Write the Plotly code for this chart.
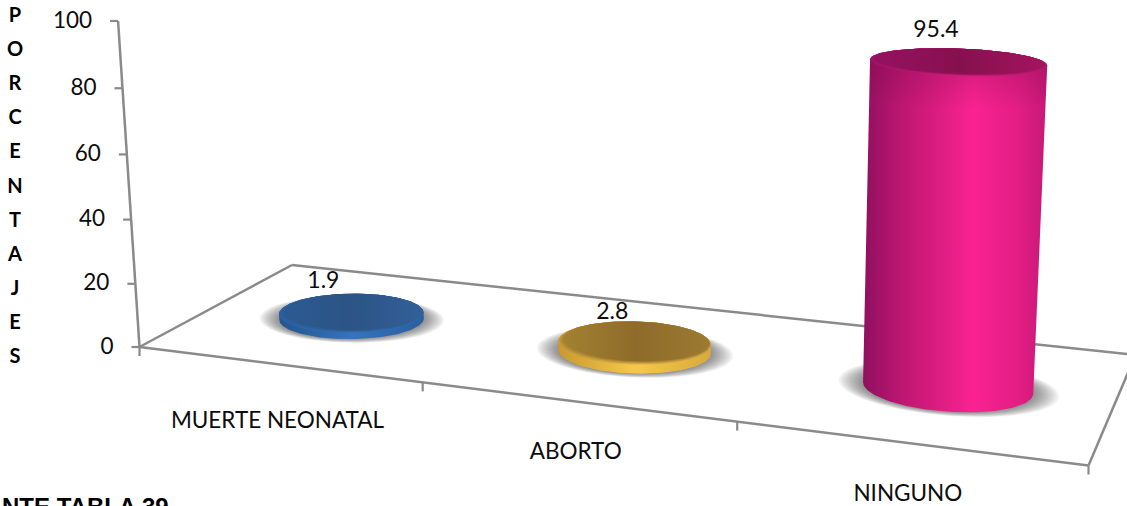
import numpy as np
import plotly.graph_objects as go

# Chart content
categories = ["MUERTE NEONATAL", "ABORTO", "NINGUNO"]
porcentajes = [1.9, 2.8, 95.4]
value_ticks = [0, 20, 40, 60, 80, 100]
axis_title = list("PORCENTAJES")
source_note = "NTE TABLA 39"

WIDTH, HEIGHT = 1127, 506
PX_PER_PCT = 3.137
ZERO_ROW = 347.0
FRAME = "#8a8a8a"
INK = "#0c0c0c"
FONT = "Lato"

# Floor quadrilateral of the perspective box, in page pixels: front-left,
# front-right, back-right, back-left.
FLOOR = [(139.5, 347.0), (1088.5, 465.5), (1135.5, 355.0), (292.0, 265.0)]
VANISH = (684.0, 8632.0)   # where the verticals of the box converge
RISE = 0.0003786           # perspective growth per percentage point


def floor_matrix():
    src = [(0, 0), (3, 0), (3, 1), (0, 1)]
    A, b = [], []
    for (u, v), (x, y) in zip(src, FLOOR):
        A.append([u, v, 1, 0, 0, 0, -u * x, -v * x])
        A.append([0, 0, 0, u, v, 1, -u * y, -v * y])
        b += [x, y]
    h = np.linalg.solve(np.array(A, float), np.array(b, float))
    return np.append(h, 1.0).reshape(3, 3)


H = floor_matrix()


def project(u, v, z):
    """Box coordinates (category, depth, percent) to axis coordinates."""
    u, v, z = np.broadcast_arrays(np.asarray(u, float), np.asarray(v, float), np.asarray(z, float))
    x = H[0, 0] * u + H[0, 1] * v + H[0, 2] - RISE * z * VANISH[0]
    y = H[1, 0] * u + H[1, 1] * v + H[1, 2] - RISE * z * VANISH[1]
    w = H[2, 0] * u + H[2, 1] * v + H[2, 2] - RISE * z
    return x / w, (ZERO_ROW - y / w) / PX_PER_PCT


def px(dy):
    return dy / PX_PER_PCT


fig = go.Figure()


def line(us, vs, zs, width=2.5):
    x, y = project(us, vs, zs)
    fig.add_trace(go.Scatter(x=np.atleast_1d(x), y=np.atleast_1d(y), mode="lines",
                             line=dict(color=FRAME, width=width), hoverinfo="skip"))


def stub(u, v, z, dx, dy):
    x, y = project(u, v, z)
    fig.add_trace(go.Scatter(x=[x, x + dx], y=[y, y + px(dy)], mode="lines",
                             line=dict(color=FRAME, width=2.2), hoverinfo="skip"))


# Box frame
line([0, 3], [0, 0], [0, 0])
line([0, 3], [1, 1], [0, 0])
line([0, 0], [0, 1], [0, 0])
line([3, 3], [0, 1], [0, 0])
line([0, 0], [0, 0], [0, 100])
for t in value_ticks:
    stub(0, 0, t, -8, 0)
for u in range(len(categories) + 1):
    stub(u, 0, 0, 0, -9)

RV = 0.215
VC = 0.5
BAR_U = [0.5, 1.503, 2.507]
BAR_RU = [0.245, 0.245, 0.255]
STYLES = [
    dict(side=[[0, "#24558f"], [0.5, "#3474bd"], [1, "#2a5f9f"]],
         rim=[[0, "#2b5f9e"], [0.5, "#3570b4"], [1, "#2e64a4"]],
         cap=[[0, "#2b5a92"], [0.5, "#2c5485"], [1, "#33609a"]]),
    dict(side=[[0, "#c9992f"], [0.5, "#f6c84a"], [1, "#d8aa3c"]],
         rim=[[0, "#c59a38"], [0.5, "#dcb044"], [1, "#c79c38"]],
         cap=[[0, "#a38131"], [0.5, "#8e6b2a"], [1, "#9c7a32"]]),
    dict(side=[[0, "#8f1060"], [0.2, "#bb1670"], [0.6, "#fb2291"], [0.85, "#e21d84"], [1, "#c51877"]],
         rim=[[0, "#a01266"], [0.6, "#d81d80"], [1, "#b5166e"]],
         cap=[[0, "#951160"], [0.5, "#86104f"], [1, "#a3145f"]]),
]
T = np.linspace(0, 2 * np.pi, 181)


def ellipse(uc, ru, z, scale_u=1.0, scale_v=1.0, shift_v=0.0):
    return project(uc + ru * scale_u * np.cos(T), VC + shift_v + RV * scale_v * np.sin(T), z)


def filled(x, y, scale):
    fig.add_trace(go.Scatter(
        x=x, y=y, mode="lines", line=dict(width=0), fill="toself", hoverinfo="skip",
        fillgradient=dict(type="horizontal", colorscale=scale, start=float(np.min(x)), stop=float(np.max(x)))))


def mix(a, b, s):
    ca = [int(a[k:k + 2], 16) for k in (1, 3, 5)]
    cb = [int(b[k:k + 2], 16) for k in (1, 3, 5)]
    return "#" + "".join(f"{round(p + (q - p) * s):02x}" for p, q in zip(ca, cb))


def blend_scale(a, b, s):
    # Both scales are sampled at three stops to ease the rim into the top face
    def at(scale, t):
        for (p0, c0), (p1, c1) in zip(scale, scale[1:]):
            if p0 <= t <= p1:
                return mix(c0, c1, (t - p0) / (p1 - p0))
        return scale[-1][1]
    return [[t, mix(at(a, t), at(b, t), s)] for t in (0, 0.5, 1)]


for uc, ru, value, style in zip(BAR_U, BAR_RU, porcentajes, STYLES):
    # Soft shadow on the floor
    for f in np.linspace(1, 0, 13):
        sx, sy = ellipse(uc, ru, 0, 1.0 + 0.30 * f, 1.0 + 0.16 * f)
        fig.add_trace(go.Scatter(x=sx, y=sy, mode="lines", line=dict(width=0), fill="toself",
                                 fillcolor="rgba(40,40,40,0.05)", hoverinfo="skip"))
    # Body: front half of the base joined to the top ring; the bevel sits
    # just under the nominal height of the column
    top_z = value * 0.99
    bx, by = ellipse(uc, ru, 0)
    tx, ty = ellipse(uc, ru, top_z)
    bl, br = int(np.argmin(bx[:-1])), int(np.argmax(bx[:-1]))
    tl, tr = int(np.argmin(tx[:-1])), int(np.argmax(tx[:-1]))
    base_idx = np.arange(bl, bl + 1 + (br - bl) % 180) % 180
    top_idx = np.arange(tr, tr + 1 + (tl - tr) % 180) % 180
    filled(np.r_[bx[base_idx], tx[top_idx]], np.r_[by[base_idx], ty[top_idx]], style["side"])
    # Shade under the bevel on tall columns
    if value > 20:
        lx, ly = ellipse(uc, ru, top_z - 9)
        poly_x = np.r_[lx[base_idx], tx[top_idx]]
        poly_y = np.r_[ly[base_idx], ty[top_idx]]
        fig.add_trace(go.Scatter(
            x=poly_x, y=poly_y, mode="lines", line=dict(width=0), fill="toself", hoverinfo="skip",
            fillgradient=dict(type="vertical",
                              colorscale=[[0, "rgba(120,10,70,0)"], [1, "rgba(120,10,70,0.38)"]],
                              start=float(np.min(poly_y)), stop=float(np.max(poly_y)))))
    # Bevelled rim easing into the top face, whose far edge meets the rim
    for s in (0.0, 0.34, 0.67, 1.0):
        rx, ry = ellipse(uc, ru, top_z, 1 - 0.035 * s, 1 - 0.075 * s, 0.016 * s)
        filled(rx, ry, blend_scale(style["rim"], style["cap"], s))

# Text
text_x, text_y, text_s = [], [], []
for t in value_ticks:
    x, y = project(0, 0, t)
    text_x.append(x - 26)
    text_y.append(y + px(-1))
    text_s.append(str(t))
fig.add_trace(go.Scatter(x=text_x, y=text_y, text=text_s, mode="text", textposition="middle left",
                         textfont=dict(family=FONT, size=22.5, color=INK), hoverinfo="skip"))

cat_x, cat_y = project(np.arange(3) + 0.5, 0, 0)
cat_drop = np.array([58, 52, 52])
fig.add_trace(go.Scatter(x=cat_x, y=cat_y - px(cat_drop), text=categories, mode="text",
                         textposition="middle center",
                         textfont=dict(family=FONT, size=22.5, color=INK), hoverinfo="skip"))

lab_x, lab_y = project(BAR_U, VC, porcentajes)
lab_dx = np.array([-28, -22, -22])
lab_dy = np.array([31, 29, 27])
fig.add_trace(go.Scatter(x=lab_x + lab_dx, y=lab_y + px(lab_dy), text=[f"{v:.1f}" for v in porcentajes],
                         mode="text", textposition="middle center",
                         textfont=dict(family=FONT, size=23, color=INK), hoverinfo="skip"))

title_y = [(ZERO_ROW - (17 + 34.1 * k)) / PX_PER_PCT for k in range(len(axis_title))]
fig.add_trace(go.Scatter(x=[15] * len(axis_title), y=title_y, text=[f"<b>{c}</b>" for c in axis_title],
                         mode="text", textposition="middle center",
                         textfont=dict(family=FONT, size=20, color="#000000"), hoverinfo="skip"))

fig.add_trace(go.Scatter(x=[2], y=[(ZERO_ROW - 509) / PX_PER_PCT], text=[f"<b>{source_note}</b>"], mode="text",
                         textposition="middle right", cliponaxis=True,
                         textfont=dict(family="Liberation Sans", size=24, color="#000000"), hoverinfo="skip"))

fig.update_layout(
    width=WIDTH, height=HEIGHT, margin=dict(l=0, r=0, t=0, b=0), showlegend=False,
    paper_bgcolor="white", plot_bgcolor="white",
    xaxis=dict(range=[0, WIDTH], visible=False, fixedrange=True),
    yaxis=dict(range=[(ZERO_ROW - HEIGHT) / PX_PER_PCT, ZERO_ROW / PX_PER_PCT], visible=False, fixedrange=True),
)
fig.write_html("out.html")
